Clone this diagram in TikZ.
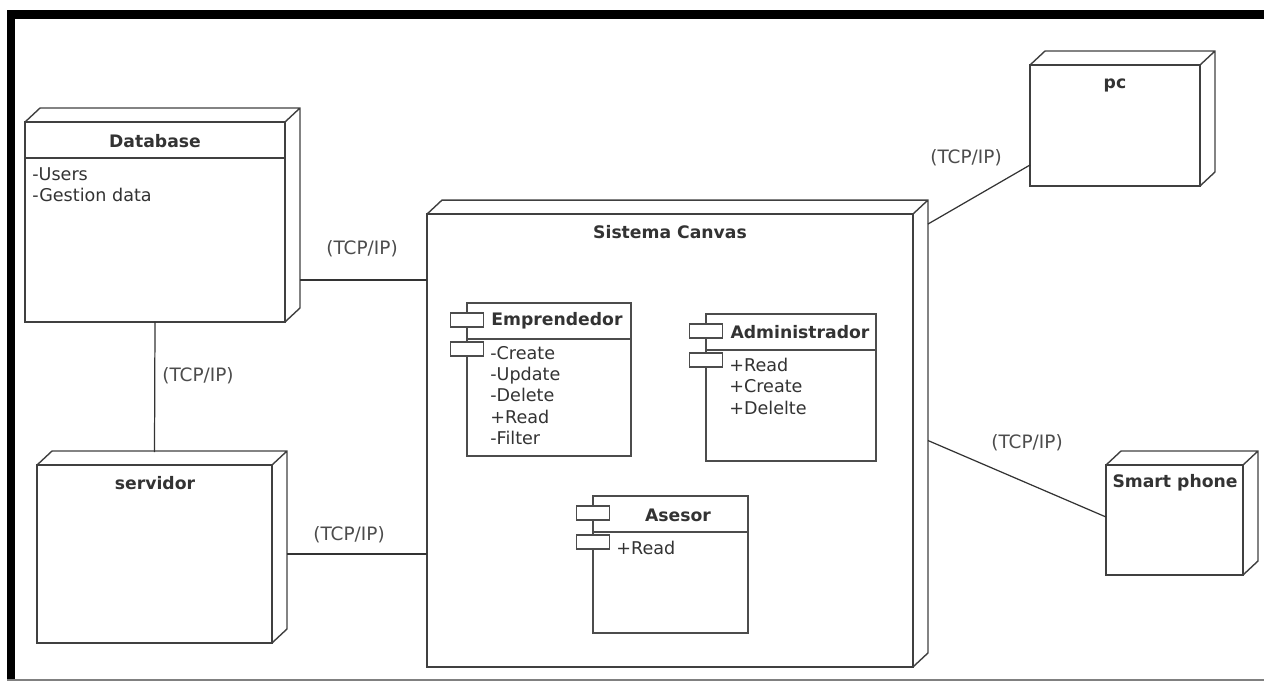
\documentclass[tikz,border=0pt]{standalone}
\usepackage{fontspec}
\setmainfont{DejaVu Sans}
\usetikzlibrary{calc}
\begin{document}
\begin{tikzpicture}[x=0.02cm,y=-0.02cm]
	\tikzstyle{boxline}=[draw=black!75,line width=0.8pt]
	\tikzstyle{device}=[boxline,fill=white,inner sep=0pt,outer sep=0pt]
	\tikzstyle{comp}=[draw=black!70,line width=0.7pt,fill=white,inner sep=0pt,outer sep=0pt]
	\tikzstyle{tab}=[comp,minimum width=0.66cm,minimum height=0.28cm]
	\tikzstyle{title}=[font=\fontsize{9.8}{12}\selectfont\bfseries,text=black!80]
	\tikzstyle{items}=[font=\fontsize{10}{12.2}\selectfont,text=black!80,align=left,anchor=north west,inner sep=0pt]
	\tikzstyle{proto}=[font=\fontsize{10.5}{12}\selectfont,text=black!70]
	\tikzstyle{link}=[draw=black!80,line width=0.7pt]
	\useasboundingbox (0,0) rectangle (1264,681);
	% marco
	\fill[black] (7,10) rectangle (1264,19);
	\fill[black] (7,10) rectangle (15,681);
	\draw[gray,line width=0.6pt] (7,680) -- (1264,680);
	% nodos
	\node[device,minimum width=5.2cm,minimum height=4cm](db) at (155,222) {};
	\node[device,minimum width=4.7cm,minimum height=3.56cm](srv) at (154.5,554) {};
	\node[device,minimum width=9.72cm,minimum height=9.06cm](sys) at (670,440.5) {};
	\node[device,minimum width=3.4cm,minimum height=2.42cm](pc) at (1115,125.5) {};
	\node[device,minimum width=2.74cm,minimum height=2.2cm](phone) at (1174.5,520) {};
	\foreach \n in {db,srv,sys,pc,phone}
		\draw[boxline] (\n.north west) -- ++(15,-14) -- ($(\n.north east)+(15,-14)$) -- ($(\n.south east)+(15,-14)$) -- (\n.south east) (\n.north east) -- ++(15,-14);
	\draw[boxline] ($(db.north west)+(0,36)$) -- ($(db.north east)+(0,36)$);
	\node[title](dbtitle) at (155,141) {Database};
	\node[items,font=\fontsize{10}{11.9}\selectfont](dbitems) at (32,167.5) {-Users\\-Gestion data};
	\node[title](srvtitle) at (155,483) {servidor};
	\node[title](systitle) at (670,232) {Sistema Canvas};
	\node[title](pctitle) at (1115,85) {pc};
	\node[title](phonetitle) at (1175,483) {Smart phone};
	% componentes
	\node[comp,minimum width=3.28cm,minimum height=3.06cm](emp) at (549,379.5) {};
	\node[comp,minimum width=3.4cm,minimum height=2.94cm](adm) at (791,387.5) {};
	\node[comp,minimum width=3.1cm,minimum height=2.74cm](ase) at (670.5,564.5) {};
	\foreach \c in {emp,adm,ase}{
		\draw[comp] ($(\c.north west)+(0,36)$) -- ($(\c.north east)+(0,36)$);
		\node[tab](\c tab1) at ($(\c.north west)+(0,17)$) {};
		\node[tab](\c tab2) at ($(\c.north west)+(0,46)$) {};
	}
	\node[title](emptitle) at (557,321) {Emprendedor};
	\node[items](empitems) at (490,345.6) {-Create\\-Update\\-Delete\\+Read\\-Filter};
	\node[title](admtitle) at (800,332) {Administrador};
	\node[items](admitems) at (729,357.6) {+Read\\+Create\\+Delelte};
	\node[title](asetitle) at (678,515) {Asesor};
	\node[items](aseitems) at (616,540.6) {+Read};
	% conexiones
	\coordinate (dbport) at ($(db.east)+(15,58)$);
	\draw[link] (dbport) -- (sys.west |- dbport);
	\draw[link] (db.south) -- ($(srv.north)+(0,-13)$);
	\draw[link] ($(srv.east)+(15,0)$) -- (sys.west |- srv.east);
	\draw[link] ($(sys.north east)+(15,10)$) -- ($(pc.south west)+(0,-21)$);
	\draw[link] ($(sys.east)+(15,0)$) -- ($(phone.west)+(0,-3)$);
	\node[proto](p1) at (362,249) {(TCP/IP)};
	\node[proto](p2) at (198,376) {(TCP/IP)};
	\node[proto](p3) at (349,535) {(TCP/IP)};
	\node[proto](p4) at (966,158) {(TCP/IP)};
	\node[proto](p5) at (1027,443) {(TCP/IP)};
\end{tikzpicture}
\end{document}
